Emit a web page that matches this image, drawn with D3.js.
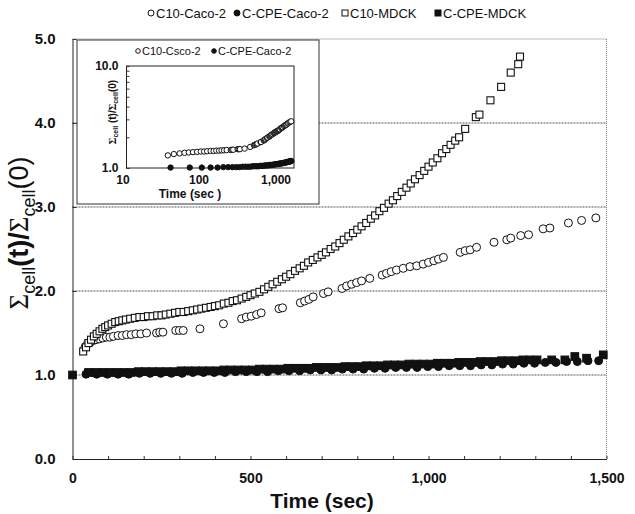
<!DOCTYPE html>
<html>
<head>
<meta charset="utf-8">
<script src="https://cdn.jsdelivr.net/npm/d3@7"></script>
<style>
  body { margin: 0; background: #fff; }
  text { font-family: "Liberation Sans", Arial, sans-serif; fill: #111; }
</style>
</head>
<body>
<svg width="635" height="514"></svg>
<script>
// series names (legend order)
var seriesNames = ["C10-Caco-2", "C-CPE-Caco-2", "C10-MDCK", "C-CPE-MDCK"];
var insetNames = ["C10-Csco-2", "C-CPE-Caco-2"];

// [time (sec), Σcell(t)/Σcell(0)]
var c10Caco = [[35,1.33],[42,1.37],[50,1.39],[58,1.41],[66,1.42],[75,1.43],[85,1.44],[95,1.45],[105,1.45],[115,1.46],
  [128,1.47],[140,1.47],[152,1.48],[165,1.48],[178,1.49],[192,1.49],[208,1.50],[236,1.50],[245,1.51],[254,1.51],
  [290,1.53],[300,1.53],[311,1.53],[358,1.55],[424,1.61],[475,1.67],[488,1.69],[502,1.70],[517,1.72],[530,1.74],
  [580,1.79],[590,1.80],[640,1.86],[652,1.88],[664,1.90],[676,1.93],[705,1.97],[718,1.99],[757,2.03],[770,2.06],
  [784,2.08],[798,2.10],[812,2.12],[835,2.15],[870,2.19],[882,2.21],[895,2.23],[910,2.25],[929,2.27],[948,2.29],
  [967,2.30],[985,2.32],[1000,2.34],[1015,2.36],[1028,2.38],[1042,2.40],[1089,2.46],[1103,2.48],[1117,2.49],[1135,2.52],
  [1184,2.58],[1220,2.61],[1231,2.63],[1259,2.66],[1281,2.67],[1322,2.74],[1341,2.75],[1393,2.81],[1430,2.84],[1470,2.87]];

var cpeCaco = [[38,1.01],[68,1.01],[98,1.01],[128,1.01],[158,1.01],[188,1.02],[218,1.02],[248,1.02],[278,1.02],[308,1.02],
  [338,1.03],[368,1.03],[398,1.03],[428,1.03],[458,1.04],[488,1.04],[518,1.04],[548,1.04],[578,1.05],[608,1.05],
  [638,1.05],[668,1.06],[698,1.06],[728,1.06],[758,1.07],[788,1.07],[818,1.07],[848,1.08],[878,1.08],[908,1.09],
  [938,1.09],[968,1.09],[998,1.10],[1028,1.10],[1058,1.11],[1088,1.11],[1118,1.11],[1148,1.12],[1178,1.12],[1208,1.13],
  [1238,1.13],[1268,1.14],[1298,1.14],[1328,1.15],[1358,1.15],[1388,1.16],[1418,1.16],[1448,1.17],[1478,1.17]];

var c10Mdck = [[30,1.28],[38,1.33],[45,1.38],[52,1.42],[60,1.46],[68,1.49],[76,1.52],[84,1.55],[92,1.57],[100,1.59],
  [110,1.61],[120,1.63],[130,1.64],[140,1.65],[150,1.66],[162,1.67],[175,1.68],[188,1.69],[200,1.69],[212,1.70],
  [225,1.70],[238,1.71],[250,1.71],[262,1.72],[275,1.73],[288,1.74],[300,1.75],[312,1.75],[325,1.76],[338,1.77],
  [350,1.78],[362,1.79],[375,1.80],[388,1.81],[400,1.82],[412,1.83],[425,1.85],[438,1.86],[450,1.88],[462,1.89],
  [475,1.91],[488,1.93],[500,1.95],[512,1.97],[525,1.99],[538,2.02],[550,2.05],[562,2.08],[575,2.11],[588,2.14],
  [600,2.17],[612,2.20],[625,2.24],[638,2.27],[650,2.30],[662,2.34],[675,2.37],[688,2.40],[700,2.43],[712,2.46],
  [725,2.50],[738,2.53],[750,2.57],[762,2.61],[775,2.65],[788,2.69],[800,2.73],[812,2.77],[825,2.81],[838,2.86],
  [850,2.90],[862,2.95],[875,2.99],[888,3.04],[900,3.08],[912,3.13],[925,3.18],[938,3.23],[950,3.28],[962,3.33],
  [975,3.38],[988,3.43],[1000,3.48],[1012,3.53],[1025,3.58],[1038,3.64],[1050,3.69],[1062,3.74],[1075,3.79],[1086,3.83],
  [1103,3.93],[1133,4.07],[1143,4.10],[1174,4.27],[1204,4.43],[1231,4.60],[1252,4.70],[1257,4.79]];

var cpeMdck = [[0,1.00],[45,1.03],[65,1.03],[85,1.03],[105,1.03],[125,1.03],[145,1.03],[165,1.03],[185,1.04],[205,1.04],
  [225,1.04],[245,1.04],[265,1.04],[285,1.04],[305,1.05],[325,1.05],[345,1.05],[365,1.05],[385,1.05],[405,1.05],
  [425,1.06],[445,1.06],[465,1.06],[485,1.06],[505,1.06],[525,1.07],[545,1.07],[565,1.07],[585,1.07],[605,1.08],
  [625,1.08],[645,1.08],[665,1.08],[685,1.09],[705,1.09],[725,1.09],[745,1.09],[765,1.10],[785,1.10],[805,1.10],
  [825,1.11],[845,1.11],[865,1.11],[885,1.12],[905,1.12],[925,1.12],[945,1.13],[965,1.13],[985,1.13],[1005,1.13],
  [1025,1.14],[1045,1.14],[1065,1.14],[1085,1.15],[1105,1.15],[1125,1.15],[1145,1.16],[1165,1.16],[1185,1.16],[1205,1.17],
  [1225,1.17],[1245,1.17],[1265,1.18],[1285,1.18],[1305,1.18],[1346,1.18],[1383,1.18],[1411,1.22],[1444,1.20],[1491,1.24]];

var yTicks = [0, 1, 2, 3, 4, 5];
var xTicks = [0, 500, 1000, 1500];
var gridVals = [1, 2, 3, 4];
var insetXTicks = [10, 100, 1000];
var insetYTicks = [1, 10];

var svg = d3.select("svg");

var x = d3.scaleLinear().domain([0, 1500]).range([72.5, 606.5]);
var y = d3.scaleLinear().domain([0, 5]).range([459, 39]);

// gridlines
svg.append("g").selectAll("line").data(gridVals).enter().append("line")
    .attr("x1", x(0)).attr("x2", x(1500))
    .attr("y1", d => y(d)).attr("y2", d => y(d))
    .attr("stroke", "#555").attr("stroke-width", 1).attr("stroke-dasharray", "2,1");

// top / right border (dotted)
svg.append("path")
    .attr("d", "M" + x(0) + "," + y(5) + "H" + x(1500) + "V" + y(0))
    .attr("fill", "none").attr("stroke", "#777").attr("stroke-dasharray", "1,1");

// axes
var yAxis = svg.append("g").attr("transform", "translate(" + x(0) + ",0)")
    .call(d3.axisLeft(y).tickValues(yTicks).tickSizeInner(-4).tickSizeOuter(0).tickPadding(17).tickFormat(d3.format(".1f")));
var xAxisMinor = svg.append("g").attr("transform", "translate(0," + y(0) + ")")
    .call(d3.axisBottom(x).tickValues(d3.range(0, 1501, 100)).tickSizeInner(-3).tickSizeOuter(0).tickFormat(""));
var xAxis = svg.append("g").attr("transform", "translate(0," + y(0) + ")")
    .call(d3.axisBottom(x).tickValues(xTicks).tickSize(0).tickPadding(14).tickFormat(d3.format(",")));
xAxis.select(".domain").remove();
svg.selectAll(".domain").attr("stroke", "#222");
svg.selectAll(".tick line").attr("stroke", "#333");
yAxis.selectAll("text").attr("font-size", 15).attr("font-weight", "bold").attr("font-family", "Liberation Sans, Arial");
xAxis.selectAll("text").attr("font-size", 14).attr("font-weight", "bold").attr("font-family", "Liberation Sans, Arial");

// axis titles
svg.append("text").attr("x", 322).attr("y", 508).attr("text-anchor", "middle")
    .attr("font-size", 21).attr("font-weight", "bold").text("Time (sec)");

var yt = svg.append("text").attr("transform", "translate(28,233) rotate(-90)")
    .attr("text-anchor", "middle").attr("font-size", 27);
yt.append("tspan").attr("font-family", "Liberation Serif, Times New Roman").text("Σ");
yt.append("tspan").attr("font-size", 18).attr("dy", 7).text("cell");
yt.append("tspan").attr("dy", -7).attr("font-weight", "bold").text("(t)/");
yt.append("tspan").attr("font-family", "Liberation Serif, Times New Roman").text("Σ");
yt.append("tspan").attr("font-size", 18).attr("dy", 7).text("cell");
yt.append("tspan").attr("dy", -7).text("(0)");

// marker drawing
function drawSeries(g, data, sx, sy, shape, filled, size) {
    if (shape === "circle") {
        g.selectAll("circle").data(data).enter().append("circle")
            .attr("cx", d => sx(d[0])).attr("cy", d => sy(d[1])).attr("r", size)
            .attr("fill", filled ? "#111" : "#fff").attr("stroke", "#111").attr("stroke-width", 1);
    } else {
        g.selectAll("rect").data(data).enter().append("rect")
            .attr("x", d => sx(d[0]) - size).attr("y", d => sy(d[1]) - size)
            .attr("width", size * 2).attr("height", size * 2)
            .attr("fill", filled ? "#111" : "#fff").attr("stroke", "#111").attr("stroke-width", 1.1);
    }
}

drawSeries(svg.append("g"), c10Caco, x, y, "circle", false, 4);
drawSeries(svg.append("g"), cpeCaco, x, y, "circle", true, 4);
drawSeries(svg.append("g"), c10Mdck, x, y, "square", false, 3.5);
drawSeries(svg.append("g"), cpeMdck, x, y, "square", true, 3.8);

// legend
var legendX = [151, 237, 345, 438];
var legendShapes = [["circle", false], ["circle", true], ["square", false], ["square", true]];
var leg = svg.append("g");
seriesNames.forEach(function (name, i) {
    var lx = legendX[i], ly = 13;
    if (legendShapes[i][0] === "circle") {
        leg.append("circle").attr("cx", lx).attr("cy", ly).attr("r", 3)
            .attr("fill", legendShapes[i][1] ? "#111" : "#fff").attr("stroke", "#111");
    } else {
        leg.append("rect").attr("x", lx - 3).attr("y", ly - 3).attr("width", 6).attr("height", 6)
            .attr("fill", legendShapes[i][1] ? "#111" : "#fff").attr("stroke", "#111");
    }
    leg.append("text").attr("x", lx + 5).attr("y", ly + 5).attr("font-size", 13).text(name);
});

// inset
var inset = svg.append("g");
inset.append("rect").attr("x", 77).attr("y", 40).attr("width", 242).attr("height", 164)
    .attr("fill", "#fff").attr("stroke", "#333").attr("stroke-width", 1);

var ix = d3.scaleLog().domain([10, 1600]).range([126.5, 294]);
var iy = d3.scaleLog().domain([1, 10]).range([168, 66]);

inset.append("rect").attr("x", ix(10)).attr("y", iy(10)).attr("width", ix(1600) - ix(10)).attr("height", iy(1) - iy(10))
    .attr("fill", "none").attr("stroke", "#222");

var iyAxis = inset.append("g").attr("transform", "translate(" + ix(10) + ",0)")
    .call(d3.axisLeft(iy).tickValues(d3.range(1, 11)).tickSizeInner(-3).tickSizeOuter(0)
        .tickFormat(d => insetYTicks.indexOf(d) >= 0 ? d3.format(".1f")(d) : ""));
var ixAxis = inset.append("g").attr("transform", "translate(0," + iy(1) + ")")
    .call(d3.axisBottom(ix).tickValues(insetXTicks).tickSize(0).tickPadding(7).tickFormat(d3.format(",")));
iyAxis.select(".domain").remove();
ixAxis.select(".domain").remove();
iyAxis.selectAll(".tick line").attr("stroke", "#333");
iyAxis.selectAll("text").attr("font-size", 12).attr("font-weight", "bold").attr("font-family", "Liberation Sans, Arial").attr("dx", -5);
ixAxis.selectAll("text").attr("font-size", 12).attr("font-weight", "bold").attr("font-family", "Liberation Sans, Arial");
ixAxis.selectAll(".tick text").attr("dx", (d, i) => i === 0 ? -4 : (i === 1 ? -4 : -3));

inset.append("text").attr("x", 190).attr("y", 198).attr("text-anchor", "middle")
    .attr("font-size", 12).attr("font-weight", "bold").text("Time (sec )");

var iyt = inset.append("text").attr("transform", "translate(116,112) rotate(-90)")
    .attr("text-anchor", "middle").attr("font-size", 10).attr("font-weight", "bold");
iyt.append("tspan").attr("font-family", "Liberation Serif, Times New Roman").text("Σ");
iyt.append("tspan").attr("font-size", 7).attr("dy", 2).text("cell");
iyt.append("tspan").attr("dy", -2).text(" (t)/");
iyt.append("tspan").attr("font-family", "Liberation Serif, Times New Roman").text("Σ");
iyt.append("tspan").attr("font-size", 7).attr("dy", 2).text("cell");
iyt.append("tspan").attr("dy", -2).text("(0)");

drawSeries(inset.append("g"), c10Caco, ix, iy, "circle", false, 2.7);
drawSeries(inset.append("g"), cpeCaco, ix, iy, "circle", true, 2.7);

var insetLegX = [138, 214];
insetNames.forEach(function (name, i) {
    inset.append("circle").attr("cx", insetLegX[i]).attr("cy", 51).attr("r", 2.3)
        .attr("fill", i === 1 ? "#111" : "#fff").attr("stroke", "#111");
    inset.append("text").attr("x", insetLegX[i] + 4).attr("y", 55).attr("font-size", 11).text(name);
});
</script>
</body>
</html>
